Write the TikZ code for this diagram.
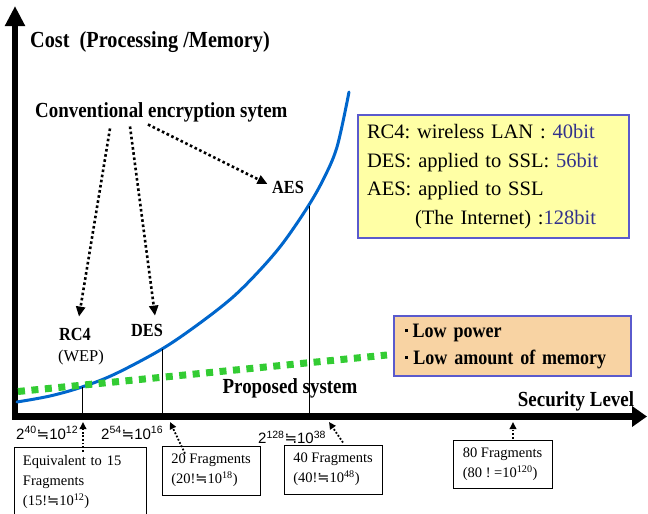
\documentclass[tikz,border=0pt]{standalone}
\usepackage{fontspec}
\setmainfont{Liberation Serif}
\newfontfamily\condserif[FakeStretch=0.88]{Liberation Serif}
\newfontfamily\symfam{DejaVu Sans}
\newfontfamily\lblsans{Liberation Sans}
\usetikzlibrary{arrows.meta}

\definecolor{curveblue}{RGB}{0,102,204}
\definecolor{dotgreen}{RGB}{51,204,51}
\definecolor{framebl}{RGB}{90,90,205}
\definecolor{notefill}{RGB}{255,255,165}
\definecolor{peach}{RGB}{248,211,163}
\definecolor{bitblue}{RGB}{50,50,140}

\newcommand\ApproxSym{{\symfam ≒}}
\newcommand\sqbul[1]{\rule[5pt]{#1pt}{#1pt}\hspace{5pt}}

\tikzset{
  yaxisline/.style={line width=6pt, -{Triangle[length=20pt,width=19pt]}},
  xaxisline/.style={line width=7pt, -{Triangle[length=15pt,width=20pt]}},
  costcurve/.style={line width=3pt, curveblue, line cap=round},
  proposedline/.style={line width=7pt, dotgreen, dash pattern=on 7pt off 6.5pt},
  guide/.style={line width=0.9pt},
  dotarrow/.style={line width=2.6pt, dash pattern=on 2.6pt off 2.6pt, -{Triangle[length=10pt,width=9pt]}},
  fragarrow/.style={line width=1.8pt, dash pattern=on 1.8pt off 1.8pt, -{Triangle[length=7pt,width=6.5pt]}},
  biglbl/.style={inner sep=0, font=\condserif\bfseries\fontsize{21.5}{24}\selectfont},
  midlbl/.style={inner sep=0, font=\condserif\bfseries\fontsize{18.5}{21}\selectfont},
  weplbl/.style={inner sep=0, font=\fontsize{16.5}{19}\selectfont},
  explbl/.style={inner sep=0, anchor=west, font=\lblsans\fontsize{15}{17}\selectfont},
  fragbox/.style={draw, line width=0.9pt, inner xsep=9pt, inner ysep=0pt, align=left,
    font=\fontsize{14.5}{20}\selectfont},
  notebox/.style={draw=framebl, line width=1.4pt, fill=notefill, inner xsep=9pt, align=left,
    font=\fontsize{20.5}{28.5}\selectfont},
  perkbox/.style={draw=framebl, line width=1.4pt, fill=peach, inner xsep=11pt, align=left,
    font=\condserif\bfseries\fontsize{20.5}{27}\selectfont},
}

\begin{document}
\frenchspacing
\begin{tikzpicture}[x=1pt,y=-1pt]
\useasboundingbox (0,0) rectangle (648,514);

% axes
\coordinate (ytip) at (15,6);
\coordinate (ybase) at (15,419.5);
\coordinate (xbase) at (12,416.5);
\coordinate (xtip) at (647,416.5);
\draw[yaxisline] (ybase) -- (ytip);
\draw[xaxisline] (xbase) -- (xtip);

% cost curve of the conventional systems
\draw[costcurve] plot[smooth, tension=0.55] coordinates {
  (17,402) (50,396) (82,387) (115,374) (162,349) (200,323) (233,297)
  (260,270) (283,243) (307,208) (323,180) (337,147) (349,92)};

% drop lines from the curve to the axis
\coordinate (g1) at (82,387);
\coordinate (g2) at (162,349);
\coordinate (g3) at (309,206);
\draw[guide] (g1) -- (g1 |- xbase);
\draw[guide] (g2) -- (g2 |- xbase);
\draw[guide] (g3) -- (g3 |- xbase);

% proposed system
\coordinate (p1) at (18,391.5);
\coordinate (p2) at (387,355);
\draw[proposedline] (p1) -- (p2);

% labels
\node[biglbl, anchor=west, font=\condserif\bfseries\fontsize{23}{26}\selectfont] (cost) at (30,42) {Cost\ \ (Processing /Memory)};
\node[biglbl, anchor=west] (conv) at (35,112) {Conventional encryption sytem};
\node[midlbl] (aes) at (288,187) {AES};
\node[midlbl] (des) at (147,330) {DES};
\node[midlbl] (rc4) at (75,334) {RC4};
\node[weplbl] (wep) at (81,358) {(WEP)};
\node[biglbl] (prop) at (290,388) {Proposed system};
\node[biglbl] (sec) at (576,401) {Security Level};

\draw[dotarrow] ([xshift=75pt,yshift=-6.5pt]conv.south west) -- ([xshift=4pt,yshift=11pt]rc4.north);
\draw[dotarrow] ([xshift=95pt,yshift=-4.5pt]conv.south west) -- ([xshift=8pt,yshift=8pt]des.north);
\draw[dotarrow] ([xshift=113pt,yshift=-2.5pt]conv.south west) -- ([xshift=-4.5pt,yshift=3pt]aes.west);

% key sizes
\node[notebox, minimum width=271pt, minimum height=123pt, text width=253pt] (keys) at (493.5,176.5) {%
RC4: wireless LAN : \textcolor{bitblue}{40bit}\\
DES: applied to SSL: \textcolor{bitblue}{56bit}\\
AES: applied to SSL\\
\hspace*{48pt}(The Internet) :\textcolor{bitblue}{128bit}};

\node[perkbox, minimum width=237pt, minimum height=60pt, text width=215pt] (perks) at (512.5,346) {%
\sqbul{2.6}Low power\\
\sqbul{3.4}Low amount of memory};

% key space values
\node[explbl] (e40) at (16,433) {2\textsuperscript{40}\ApproxSym10\textsuperscript{12}};
\node[explbl] (e54) at (101,433) {2\textsuperscript{54}\ApproxSym10\textsuperscript{16}};
\node[explbl] (e128) at (258,437.5) {2\textsuperscript{128}\ApproxSym10\textsuperscript{38}};

% fragment counts
\node[fragbox, minimum width=132pt, minimum height=70pt, text width=114pt] (f1) at (80,482)
  {Equivalent to 15\\Fragments\\(15!\ApproxSym10\textsuperscript{12})};
\node[fragbox, minimum width=98pt, minimum height=49pt] (f2) at (211,470.5)
  {20 Fragments\\(20!\ApproxSym10\textsuperscript{18})};
\node[fragbox, minimum width=98pt, minimum height=49pt] (f3) at (333,469.5)
  {40 Fragments\\(40!\ApproxSym10\textsuperscript{48})};
\node[fragbox, minimum width=99pt, minimum height=48pt] (f4) at (502.5,464)
  {80 Fragments\\(80 ! =10\textsuperscript{120})};

\coordinate (t1) at (83,422);
\coordinate (t2) at (170,422);
\coordinate (t3) at (329,422);
\coordinate (t4) at (513,422);
\draw[fragarrow] ([xshift=3pt,yshift=-5pt]f1.north) -- (t1);
\draw[fragarrow] ([xshift=-26pt,yshift=-8pt]f2.north) -- (t2);
\draw[fragarrow] ([xshift=10pt,yshift=2pt]f3.north) -- (t3);
\draw[fragarrow] ([xshift=10.5pt,yshift=1pt]f4.north) -- (t4);
\end{tikzpicture}
\end{document}
